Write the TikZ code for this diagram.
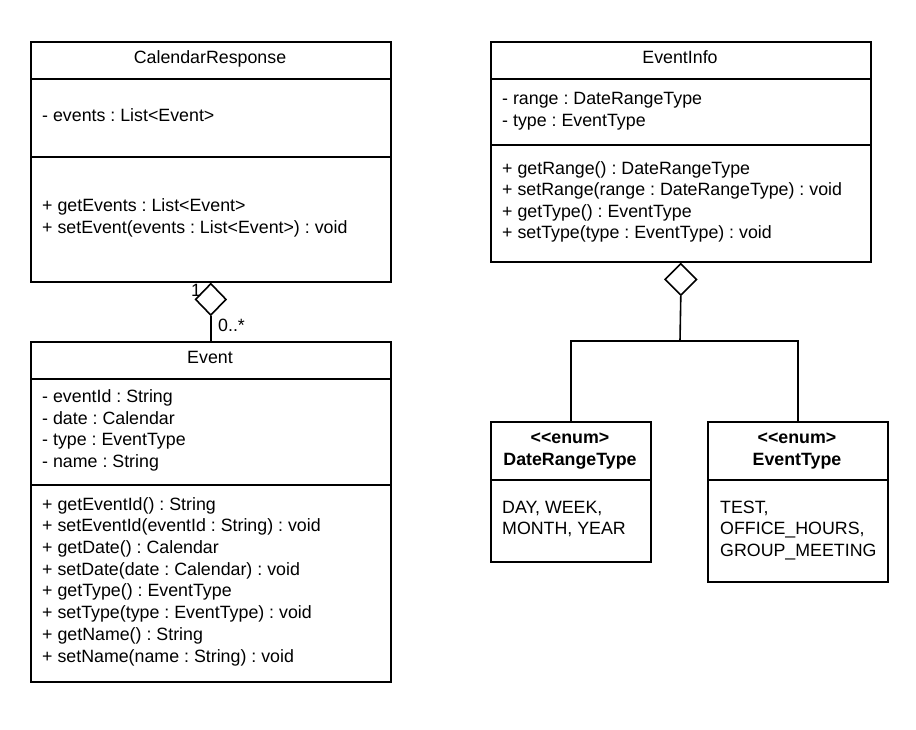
\documentclass[tikz,border=0pt]{standalone}
\usepackage{fontspec}
\setmainfont{Liberation Sans}
\usetikzlibrary{shapes.geometric}
\newcommand\umlfont{\fontsize{17.8}{21.5}\selectfont\frenchspacing}
\tikzset{
  umlbox/.style={draw, line width=1.6pt, rectangle, inner sep=0pt, anchor=north west, fill=white},
  sep/.style={line width=1.6pt},
  conn/.style={line width=1.6pt},
  txt/.style={inner sep=0pt, font=\umlfont, anchor=base west},
  ctxt/.style={txt, anchor=base},
  btxt/.style={ctxt, font=\umlfont\bfseries},
  agg/.style={draw, line width=1.6pt, shape=diamond, aspect=1, inner sep=0pt, minimum width=31pt, minimum height=32pt, fill=white, anchor=north},
}
\begin{document}
\begin{tikzpicture}[x=1pt, y=-1pt]
\useasboundingbox (0,0) rectangle (916,729);
\fill[white] (0,0) rectangle (916,729);

% CalendarResponse
\node[umlbox, minimum width=360pt, minimum height=240pt] (cr) at (30,41) {};
\draw[sep] (30,79) -- (390,79);
\draw[sep] (30,157) -- (390,157);
\node[ctxt] (crt) at (210,63) {CalendarResponse};
\node[txt] (cra1) at (42,121) {- events : List<Event>};
\node[txt] (crm1) at (42,211) {+ getEvents : List<Event>};
\node[txt] (crm2) at (42,233) {+ setEvent(events : List<Event>) : void};

% Event
\node[umlbox, minimum width=360pt, minimum height=340pt] (ev) at (30,341) {};
\draw[sep] (30,379) -- (390,379);
\draw[sep] (30,485) -- (390,485);
\node[ctxt] (evt) at (210,363) {Event};
\node[txt] (eva1) at (42,402) {- eventId : String};
\node[txt] (eva2) at (42,424) {- date : Calendar};
\node[txt] (eva3) at (42,445) {- type : EventType};
\node[txt] (eva4) at (42,467) {- name : String};
\node[txt] (evm1) at (42,510) {+ getEventId() : String};
\node[txt] (evm2) at (42,531.7) {+ setEventId(eventId : String) : void};
\node[txt] (evm3) at (42,553.4) {+ getDate() : Calendar};
\node[txt] (evm4) at (42,575.1) {+ setDate(date : Calendar) : void};
\node[txt] (evm5) at (42,596.8) {+ getType() : EventType};
\node[txt] (evm6) at (42,618.5) {+ setType(type : EventType) : void};
\node[txt] (evm7) at (42,640.2) {+ getName() : String};
\node[txt] (evm8) at (42,662) {+ setName(name : String) : void};

% aggregation CalendarResponse - Event
\node[agg] (d1) at (cr.south) {};
\draw[conn] (d1.south) -- (ev.north);
\node[ctxt] (m1) at (196,296) {1};
\node[txt] (m2) at (218,331) {0..*};

% EventInfo
\node[umlbox, minimum width=380pt, minimum height=220pt] (ei) at (490,41) {};
\draw[sep] (490,79) -- (870,79);
\draw[sep] (490,145) -- (870,145);
\node[ctxt] (eit) at (680,63) {EventInfo};
\node[txt] (eia1) at (502,104) {- range : DateRangeType};
\node[txt] (eia2) at (502,126) {- type : EventType};
\node[txt] (eim1) at (502,174) {+ getRange() : DateRangeType};
\node[txt] (eim2) at (502,195.5) {+ setRange(range : DateRangeType) : void};
\node[txt] (eim3) at (502,217) {+ getType() : EventType};
\node[txt] (eim4) at (502,238.5) {+ setType(type : EventType) : void};

% DateRangeType
\node[umlbox, minimum width=160pt, minimum height=140pt] (dr) at (490,421) {};
\draw[sep] (490,480) -- (650,480);
\node[btxt] (drs) at (570,443) {<\kern0pt<enum>};
\node[btxt] (drt) at (570,465) {DateRangeType};
\node[txt] (drv1) at (502,513) {DAY, WEEK,};
\node[txt] (drv2) at (502,534.5) {MONTH, YEAR};

% EventType
\node[umlbox, minimum width=180pt, minimum height=160pt] (et) at (707,421) {};
\draw[sep] (707,480) -- (887,480);
\node[btxt] (ets) at (797,443) {<\kern0pt<enum>};
\node[btxt] (ett) at (797,465) {EventType};
\node[txt] (etv1) at (720,513) {TEST,};
\node[txt] (etv2) at (720,534.5) {OFFICE\_HOURS,};
\node[txt] (etv3) at (720,556) {GROUP\_MEETING};

% aggregation EventInfo - enums
\node[agg, minimum width=32pt] (d2) at (ei.south) {};
\coordinate (j) at (680,341);
\draw[conn] (d2.south) -- (j);
\draw[conn] (dr.north) |- (j) -| (et.north);
\end{tikzpicture}
\end{document}
